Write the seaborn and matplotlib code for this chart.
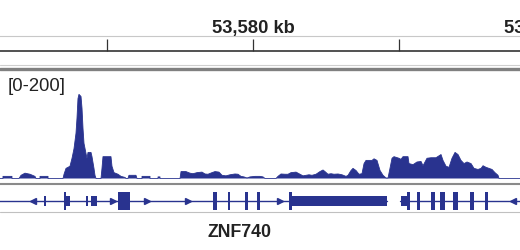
import numpy as np
import pandas as pd
import matplotlib
matplotlib.use("Agg")
import matplotlib.pyplot as plt
import seaborn as sns
from matplotlib.lines import Line2D

# ---------------- data ----------------
region_start = 53575669          # bp at left edge of the view
region_end = 53584571            # bp at right edge of the view
data_range = (0, 200)

# ChIP-seq coverage: positions (bp offset from region_start) and signal values
cov_pos = [0, 51, 51, 205, 205, 325, 360, 428, 514, 599, 616, 685, 685, 822, 822,
           1079, 1096, 1130, 1198, 1233, 1267, 1301, 1318, 1335, 1352, 1387, 1404,
           1421, 1438, 1472, 1489, 1507, 1558, 1575, 1609, 1626, 1644,
           1729, 1746, 1763, 1900, 1917, 1952, 2020, 2072, 2140, 2157,
           2191, 2208, 2328, 2345, 2431, 2431, 2568, 2568, 2705, 2705, 2739, 2739,
           3082, 3099, 3184, 3253, 3304, 3373, 3458, 3510, 3561, 3629, 3681, 3749,
           3801, 3869, 3938, 4023, 4075, 4126, 4177, 4229, 4280, 4366, 4451, 4503,
           4537, 4725, 4759, 4811, 4879, 4931, 4982, 5068, 5136, 5187, 5239, 5290,
           5341, 5410, 5478, 5530, 5564, 5615, 5667, 5718, 5787, 5855, 5924, 5958,
           6009, 6043, 6095, 6146, 6197, 6232, 6266, 6369, 6403, 6454, 6506, 6557,
           6608, 6643, 6677, 6711, 6745, 6831, 6865, 6899, 6985, 7002, 7071, 7139,
           7208, 7242, 7310, 7379, 7464, 7550, 7584, 7636, 7687, 7738, 7790, 7841,
           7892, 7944, 7995, 8064, 8115, 8183, 8235, 8269, 8320, 8372, 8423, 8474,
           8526, 8543, 8902]
cov_val = [0, 0, 4, 4, 0, 0, 6, 10, 8, 4, 0, 0, 4, 4, 0,
           0, 8, 19, 23, 38, 56, 85, 113, 150, 158, 154, 132,
           94, 66, 47, 38, 49, 49, 41, 19, 6, 0,
           0, 19, 41, 41, 23, 11, 8, 4, 2, 0,
           0, 6, 6, 0, 0, 4, 4, 0, 0, 3, 3, 0,
           0, 13, 13, 10, 9, 11, 12, 8.5, 8, 11, 13, 12,
           6, 5, 7, 8.5, 8, 4, 3, 1, 3, 4, 4, 3,
           0, 0, 4, 8.5, 8, 8, 11, 12, 8, 5, 6, 7,
           6, 8, 13, 16, 13, 8, 9, 8, 8.5, 7, 4, 6,
           15, 19, 15, 8, 9, 28, 34, 34, 37, 34, 15, 6,
           1, 1, 19, 38, 41, 38, 36, 41, 41, 28, 26, 31,
           32, 24, 38, 39, 39, 45, 34, 23, 21, 38, 49, 45,
           34, 28, 31, 28, 19, 17, 19, 24, 21, 19, 17, 11,
           6, 0, 0]

# Gene model (bp offsets from region_start)
gene_lines = [(-600, 6625), (6848, 9400)]
cds_exons = [(1096, 1130), (2020, 2226), (3647, 3715), (3903, 3938), (4194, 4246),
             (4400, 4451), (4948, 4999), (6968, 7019), (7139, 7190), (7379, 7447),
             (7533, 7618), (7755, 7841), (8046, 8115), (8303, 8355)]
utr_exons = [(753, 779), (1130, 1198), (1472, 1507), (1558, 1661), (4999, 6625),
             (6865, 6968)]
arrows_right = [1935, 2517, 3219, 4794]
arrows_left = [565, 8783]
gene_name = "ZNF740"

ruler_ticks = [53577500, 53580000, 53582500]
ruler_labels = [(53580000, "53,580 kb"), (53585000, "53,585 kb")]
track_label = "[0-200]"

# ---------------- style ----------------
sns.set_theme(style="white")
plt.rcParams["font.family"] = ["Liberation Sans", "DejaVu Sans"]
navy = "#29338f"

W, H = 520, 251
fig = plt.figure(figsize=(W / 100, H / 100), dpi=100)
fig.patch.set_facecolor("white")


def fbox(top, bottom, left=0, right=W):
    return [left / W, 1 - bottom / H, (right - left) / W, (bottom - top) / H]


def hline(y, color, lw):
    fig.add_artist(Line2D([0, 1], [1 - y / H, 1 - y / H], color=color, lw=lw,
                          transform=fig.transFigure))


# ---- ruler ----
axr = fig.add_axes(fbox(37, 52))
axr.set_xlim(region_start, region_end)
axr.set_ylim(0, 1)
axr.set_facecolor("none")
for s in ["left", "right"]:
    axr.spines[s].set_visible(False)
axr.spines["top"].set_color("#c8c8c8")
axr.spines["top"].set_linewidth(0.8)
axr.spines["bottom"].set_color("#333333")
axr.spines["bottom"].set_linewidth(1.2)
axr.set_yticks([])
axr.set_xticks(ruler_ticks)
axr.set_xticklabels([""] * len(ruler_ticks))
axr.tick_params(axis="x", direction="in", length=8.8, width=0.9, color="#333333",
                bottom=True, top=False)
for xpos, lab in ruler_labels:
    axr.text(xpos, 1.3, lab, transform=axr.get_xaxis_transform(), ha="center",
             va="baseline", fontsize=13.2, fontweight="bold", color="#222222",
             clip_on=False)

hline(66, "#cfcfcf", 0.8)
hline(69.5, "#808080", 2.4)

# ---- coverage track ----
axt = fig.add_axes(fbox(73, 179.5))
xs = np.array(cov_pos) + region_start
df = pd.DataFrame({"pos": xs, "signal": cov_val})
axt.fill_between(df["pos"], 0, df["signal"], color=navy, lw=0)
sns.lineplot(data=df, x="pos", y="signal", ax=axt, color=navy, lw=0.6,
             estimator=None, sort=False)
axt.axhline(0, color="#666666", lw=0.7)
axt.set_xlim(region_start, region_end)
axt.set_ylim(*data_range)
axt.axis("off")
fig.text(8 / W, 1 - 86.5 / H, track_label, fontsize=13.3, color="#222222",
         va="center", ha="left")

hline(185, "#8a8a8a", 1.5)

# ---- gene track ----
axg = fig.add_axes(fbox(188, 213))
axg.set_xlim(region_start, region_end)
axg.set_ylim(213, 188)
axg.axis("off")
for a, b in gene_lines:
    axg.plot([region_start + a, region_start + b], [202, 202], color=navy, lw=1.0)
axg.bar(x=[region_start + a for a, b in cds_exons], height=18,
        width=[b - a for a, b in cds_exons], bottom=193, align="edge",
        color=navy, lw=0)
axg.bar(x=[region_start + a for a, b in utr_exons], height=10,
        width=[b - a for a, b in utr_exons], bottom=197, align="edge",
        color=navy, lw=0)
axg.plot(np.array(arrows_right) + region_start, [202] * len(arrows_right), ls="none",
         marker=">", ms=4, color=navy)
axg.plot(np.array(arrows_left) + region_start, [202] * len(arrows_left), ls="none",
         marker="<", ms=4, color=navy)

hline(213, "#c0c0c0", 0.8)

fig.text(240 / W, 1 - 233 / H, gene_name, fontsize=12.8, fontweight="bold",
         color="#222222", ha="center", va="center")

fig.savefig("out.png", dpi=100, facecolor="white")
